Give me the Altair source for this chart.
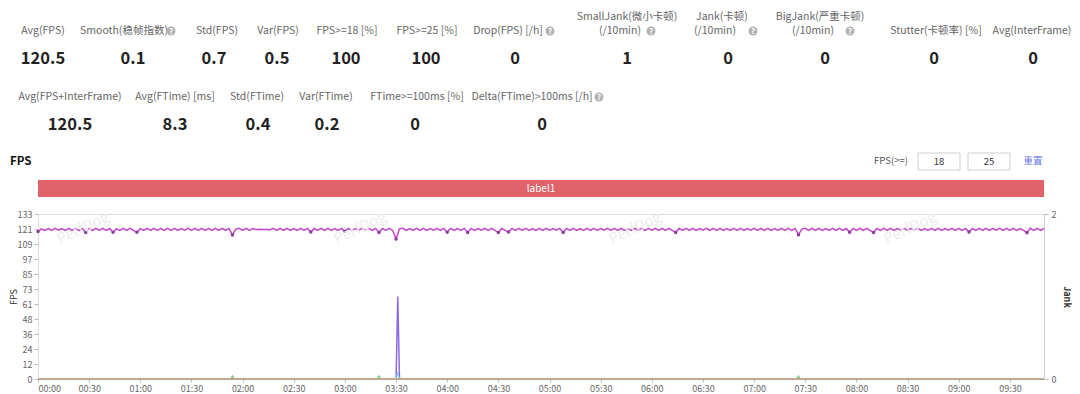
import altair as alt
import pandas as pd

# ---------------- data ----------------
stat_row1_labels = [["Avg(FPS)"], ["Smooth(稳帧指数)"], ["Std(FPS)"], ["Var(FPS)"],
                    ["FPS>=18 [%]"], ["FPS>=25 [%]"], ["Drop(FPS) [/h]"],
                    ["SmallJank(微小卡顿)", "(/10min)"], ["Jank(卡顿)", "(/10min)"],
                    ["BigJank(严重卡顿)", "(/10min)"], ["Stutter(卡顿率) [%]"], ["Avg(InterFrame)"]]
stat_row1_values = ["120.5", "0.1", "0.7", "0.5", "100", "100", "0", "1", "0", "0", "0", "0"]

stat_row2_labels = [["Avg(FPS+InterFrame)"], ["Avg(FTime) [ms]"], ["Std(FTime)"], ["Var(FTime)"],
                    ["FTime>=100ms [%]"], ["Delta(FTime)>100ms [/h]"]]
stat_row2_values = ["120.5", "8.3", "0.4", "0.2", "0", "0"]

fps_thresholds = ["18", "25"]
segment_label = ["label1"]
segment_start = [0]
segment_end = [590]

# FPS, sampled every 2 s from 0 to 590 s
fps_values = [
    119.0, 121.2, 120.0, 121.5, 119.9, 121.6, 120.1, 121.5, 119.9, 121.6,
    119.9, 121.6, 119.8, 121.5, 118.3, 121.3, 120.0, 121.6, 119.9, 121.6,
    119.9, 121.5, 118.5, 121.2, 120.0, 121.6, 119.9, 121.6, 119.9, 118.4,
    121.3, 120.0, 121.6, 119.9, 121.6, 119.9, 121.5, 120.0, 121.6, 119.9,
    121.6, 119.9, 121.5, 120.1, 121.6, 119.9, 121.6, 119.9, 121.6, 119.9,
    121.5, 120.0, 121.6, 119.9, 121.6, 119.9, 121.5, 116.3, 121.0, 121.6,
    119.9, 121.6, 119.9, 121.5, 120.6, 120.8, 120.6, 120.7, 120.5, 121.6,
    119.9, 121.6, 119.9, 121.6, 119.9, 121.5, 120.0, 121.6, 119.9, 121.6,
    118.6, 121.5, 120.0, 121.6, 119.9, 121.6, 119.9, 121.5, 120.0, 121.6,
    119.2, 121.6, 119.9, 121.5, 120.1, 121.6, 119.9, 121.6, 119.9, 121.6,
    118.2, 121.5, 120.0, 121.6, 119.9, 113.0, 121.2, 121.6, 119.9, 121.5,
    120.0, 121.6, 119.9, 121.6, 119.9, 121.5, 120.1, 121.6, 119.9, 121.6,
    118.4, 121.6, 119.9, 121.5, 120.0, 121.6, 118.3, 121.6, 119.9, 121.5,
    120.1, 121.6, 119.9, 121.6, 119.9, 118.2, 121.5, 120.0, 118.6, 121.6,
    119.9, 121.6, 119.9, 121.6, 119.9, 121.5, 120.0, 121.6, 119.9, 121.6,
    119.9, 121.5, 120.1, 121.6, 118.2, 121.6, 119.9, 121.6, 119.9, 121.5,
    120.0, 121.6, 119.9, 121.6, 119.9, 121.5, 120.1, 121.6, 119.9, 121.6,
    119.9, 121.6, 119.9, 121.5, 120.0, 121.6, 119.9, 121.6, 119.9, 121.5,
    120.1, 121.6, 119.9, 121.6, 119.9, 121.6, 119.9, 118.3, 121.5, 120.0,
    121.6, 119.9, 121.6, 119.9, 121.5, 120.1, 121.6, 119.9, 121.6, 119.9,
    121.6, 119.9, 121.5, 120.0, 121.6, 119.9, 121.6, 119.9, 121.5, 120.1,
    121.6, 119.9, 121.6, 119.9, 121.6, 119.9, 121.5, 120.0, 121.6, 119.9,
    121.6, 119.9, 121.5, 116.5, 121.0, 121.6, 119.9, 121.6, 119.9, 121.6,
    119.9, 121.5, 120.0, 121.6, 119.9, 121.6, 119.9, 121.5, 118.4, 121.6,
    119.9, 121.6, 119.9, 121.6, 119.9, 118.2, 121.5, 120.0, 121.6, 119.9,
    121.6, 119.9, 121.5, 120.1, 121.6, 119.9, 121.6, 119.9, 121.6, 119.9,
    121.5, 120.0, 121.6, 119.9, 121.6, 119.9, 121.5, 120.1, 121.6, 119.9,
    121.6, 119.9, 121.6, 118.6, 121.5, 120.0, 121.6, 119.9, 121.6, 119.9,
    121.5, 120.1, 121.6, 119.9, 121.6, 119.9, 121.6, 119.9, 121.5, 120.0,
    118.0, 121.6, 119.9, 121.6, 119.9, 121.5,
]
fps_times = list(range(0, 591, 2))

jank_times = [0, 210, 211, 212, 590]
jank_values = [0, 0, 1, 0, 0]

stutter_times = [0, 210, 211, 212, 590]
stutter_values = [0, 0, 5, 0, 0]

green_times = [0, 113, 114, 115, 199, 200, 201, 445, 446, 447, 590]
green_values = [0, 0, 2.5, 0, 0, 2.5, 0, 0, 2.5, 0, 0]

interframe_times = [0, 590]
interframe_values = [0, 0]

x_tick_values = list(range(0, 571, 30))
fps_max = 133.2
fps_tick_values = [fps_max * i / 11 for i in range(12)]
jank_tick_values = [0, 1, 2]

# ---------------- layout (pixels, page coordinates) ----------------
FONT = "Noto Sans CJK SC"
OX, OY = 38, 214          # plot origin on the page
PW, PH = 1006, 165        # plot size
row1_x = [43, 124, 217, 278, 347, 427, 508, 627, 722, 820, 936, 1032]
row1_val_x = [43, 133, 214, 277, 346, 426, 515, 627, 728, 825, 934, 1033]
row1_help_x = [None, 171, None, None, None, None, 550, 651, 753, 850, None, None]
row2_x = [70, 175, 257, 326, 417, 532]
row2_val_x = [70, 175, 258, 327, 415, 542]
row2_help_x = [None, None, None, None, None, 599]

one = pd.DataFrame({"a": [0]})


def txt(s, x, y, size=10.5, color="#666666", weight="normal", align="center", angle=0, font=FONT):
    return alt.Chart(pd.DataFrame({"s": [s]})).mark_text(
        align=align, baseline="middle", fontSize=size, color=color,
        fontWeight=weight, font=font, angle=angle
    ).encode(x=alt.value(x - OX), y=alt.value(y - OY), text="s:N")


def help_icon(x, y):
    c = alt.Chart(one).mark_circle(size=80, color="#b3b3b3", opacity=1).encode(
        x=alt.value(x - OX), y=alt.value(y - OY))
    q = txt("?", x, y + 0.5, size=8, color="white", weight="bold")
    return [c, q]


def box(x1, x2, y1, y2):
    return alt.Chart(one).mark_rect(fill="white", stroke="#cfcfcf", strokeWidth=1).encode(
        x=alt.value(x1 - OX), x2=alt.value(x2 - OX), y=alt.value(y1 - OY), y2=alt.value(y2 - OY))


annot = []
for lines, val, hx, lx, vx in zip(stat_row1_labels, stat_row1_values, row1_help_x, row1_x, row1_val_x):
    if len(lines) == 2:
        annot.append(txt(lines[0], lx, 17))
        annot.append(txt(lines[1], lx - 7 if hx else lx, 31))
    else:
        annot.append(txt(lines[0], lx, 31))
    if hx:
        annot += help_icon(hx, 31)
    annot.append(txt(val, vx, 59, size=16.5, color="#222222", weight="bold"))

for lines, val, hx, lx, vx in zip(stat_row2_labels, stat_row2_values, row2_help_x, row2_x, row2_val_x):
    annot.append(txt(lines[0], lx, 97))
    if hx:
        annot += help_icon(hx, 97)
    annot.append(txt(val, vx, 125, size=16.5, color="#222222", weight="bold"))

annot.append(txt("FPS", 10, 162, size=11.5, color="#111111", weight="bold", align="left"))
annot.append(txt("FPS(>=)", 891, 161, size=9.5, color="#555555"))
annot.append(box(918, 960, 153, 170))
annot.append(box(968, 1010, 153, 170))
annot.append(txt(fps_thresholds[0], 939, 161.5, size=9.5, color="#333333"))
annot.append(txt(fps_thresholds[1], 989, 161.5, size=9.5, color="#333333"))
annot.append(txt("重置", 1033, 161, size=9.5, color="#6a78e8"))

watermarks = [txt("PerfDog", wx, 228, size=15, color="#ededed", weight="normal", angle=335)
              for wx in [83, 360, 635, 910]]

# ---------------- chart ----------------
x_axis = alt.Axis(values=x_tick_values, labelExpr="utcFormat(datum.value * 1000, '%M:%S')",
                  title=None, grid=False, tickSize=3, domainColor="#cccccc", tickColor="#bbbbbb",
                  labelColor="#666666", labelFontSize=9, labelFont=FONT, labelFlush=True, labelPadding=2)
x_scale = alt.Scale(domain=[0, 590], nice=False, zero=False)
X = alt.X("t:Q", scale=x_scale, axis=x_axis)

fps_axis = alt.Axis(values=fps_tick_values, format=".0f", orient="left", title="FPS", grid=False,
                    domain=False, tickSize=4, tickColor="#bbbbbb", labelColor="#666666",
                    labelFontSize=9, labelFont=FONT, titleFontSize=9, titleFont=FONT,
                    titleColor="#333333", titleFontWeight="normal", labelPadding=2,
                    titleX=-25, titleY=PH / 2, titleAngle=270, titleAlign="center",
                    titleBaseline="middle")
Y_fps = alt.Y("v:Q", scale=alt.Scale(domain=[0, fps_max], nice=False, zero=True), axis=fps_axis)

jank_axis = alt.Axis(values=jank_tick_values, format="d", orient="right", title="Jank", grid=False,
                     domainColor="#cccccc", tickSize=4, tickColor="#bbbbbb", labelColor="#666666",
                     labelFontSize=9, labelFont=FONT, titleFontSize=9, titleFont=FONT,
                     titleColor="#333333", titleFontWeight="bold", labelPadding=3,
                     titleX=22, titleY=PH / 2, titleAngle=90, titleAlign="center",
                     titleBaseline="middle")
Y_jank = alt.Y("v:Q", scale=alt.Scale(domain=[0, 2], nice=False), axis=jank_axis)

fps_df = pd.DataFrame({"t": fps_times, "v": fps_values})
jank_df = pd.DataFrame({"t": jank_times, "v": jank_values})
stutter_df = pd.DataFrame({"t": stutter_times, "v": stutter_values})
green_df = pd.DataFrame({"t": green_times, "v": green_values})
inter_df = pd.DataFrame({"t": interframe_times, "v": interframe_values})
seg_df = pd.DataFrame({"label": segment_label, "start": segment_start, "end": segment_end})

jank_line = alt.Chart(jank_df).mark_line(color="#8a6ae0", strokeWidth=1.5).encode(x=X, y=Y_jank)

fps_line = alt.Chart(fps_df).mark_line(color="#c044c8", strokeWidth=1.5).encode(x=X, y=Y_fps)
fps_pts = alt.Chart(fps_df).transform_filter("datum.v < 119.5").mark_circle(
    size=12, color="#8e3a9e", opacity=1).encode(x=X, y=Y_fps)
stutter_line = alt.Chart(stutter_df).mark_line(color="#8ec5f0", strokeWidth=1.2).encode(x=X, y=Y_fps)
green_line = alt.Chart(green_df).mark_line(color="#7cc46a", strokeWidth=1.2).encode(x=X, y=Y_fps)
inter_line = alt.Chart(inter_df).mark_line(color="#c9a684", strokeWidth=1.6).encode(x=X, y=Y_fps)

seg_bar = alt.Chart(seg_df).mark_rect(color="#e0626a").encode(
    x=alt.X("start:Q", scale=x_scale, axis=x_axis), x2="end:Q",
    y=alt.value(180 - OY), y2=alt.value(197 - OY))
seg_text = alt.Chart(seg_df).transform_calculate(mid="(datum.start + datum.end) / 2").mark_text(
    color="white", fontSize=10, font=FONT, baseline="middle").encode(
    x=alt.X("mid:Q", scale=x_scale, axis=x_axis), y=alt.value(188.5 - OY), text="label:N")

fps_group = alt.layer(green_line, stutter_line, inter_line, fps_line, fps_pts)

chart = alt.layer(jank_line, fps_group, *watermarks, seg_bar, seg_text, *annot).resolve_scale(
    y="independent"
).properties(
    width=PW, height=PH,
    autosize=alt.AutoSizeParams(type="none"),
    padding={"left": 30, "top": 206, "right": 28, "bottom": 15},
).configure_view(stroke=None).configure(background="white")

chart.save("out.html", embed_options={"renderer": "svg", "actions": False})
